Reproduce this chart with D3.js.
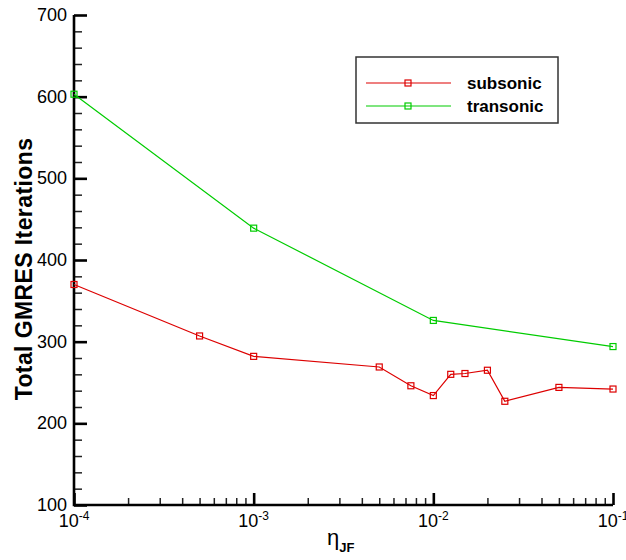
<!DOCTYPE html>
<html>
<head>
<meta charset="utf-8">
<script src="https://cdn.jsdelivr.net/npm/d3@7"></script>
<style>
  body { margin: 0; background: #fff; }
  svg text { font-family: "Liberation Sans", Arial, sans-serif; }
</style>
</head>
<body>
<svg id="chart" width="626" height="560"></svg>
<script>
// data
const subsonicEta = [1e-4, 5e-4, 1e-3, 5e-3, 7.5e-3, 1e-2, 1.25e-2, 1.5e-2, 2e-2, 2.5e-2, 5e-2, 1e-1];
const subsonicIter = [370, 307, 282, 269, 246, 234, 260, 261, 265, 227, 244, 242];
const transonicEta = [1e-4, 1e-3, 1e-2, 1e-1];
const transonicIter = [603, 439, 326, 294];
const seriesNames = ['subsonic', 'transonic'];
const seriesColors = ['#dd0000', '#00cc00'];
const yTicks = [100, 200, 300, 400, 500, 600, 700];
const xTickExps = [-4, -3, -2, -1];

const margin = { left: 74, right: 13, top: 15, bottom: 55 };
const width = 626, height = 560;

const svg = d3.select('#chart');
const x = d3.scaleLog().domain([1e-4, 1e-1]).range([margin.left, width - margin.right]);
const y = d3.scaleLinear().domain([100, 700]).range([height - margin.bottom, margin.top]);

const x0 = x.range()[0], yb = y.range()[0];

// minor ticks
const yMinor = d3.range(100, 701, 20).filter(v => v % 100 !== 0);
const xMinor = [];
xTickExps.slice(0, -1).forEach(e => {
  for (let k = 2; k <= 9; k++) xMinor.push(k * Math.pow(10, e));
});

// inward ticks via d3.axis (no labels)
const yMinAxis = svg.append('g').attr('transform', `translate(${x0},0)`)
  .call(d3.axisRight(y).tickValues(yMinor).tickSize(8).tickFormat(''));
const yMajAxis = svg.append('g').attr('transform', `translate(${x0},0)`)
  .call(d3.axisRight(y).tickValues(yTicks).tickSize(13).tickFormat(''));
const xMinAxis = svg.append('g').attr('transform', `translate(0,${yb})`)
  .call(d3.axisTop(x).tickValues(xMinor).tickSize(7).tickFormat(''));
const xMajAxis = svg.append('g').attr('transform', `translate(0,${yb})`)
  .call(d3.axisTop(x).tickValues(xTickExps.map(e => Math.pow(10, e))).tickSize(12).tickFormat(''));
[yMinAxis, yMajAxis, xMinAxis, xMajAxis].forEach(g => g.select('.domain').remove());
[yMinAxis, xMinAxis].forEach(g => g.selectAll('line').attr('stroke', '#222').attr('stroke-width', 1.5));
[yMajAxis, xMajAxis].forEach(g => g.selectAll('line').attr('stroke', '#000').attr('stroke-width', 2.6));

// axis lines
svg.append('path')
  .attr('d', `M${x0},${y.range()[1]}V${yb}H${x.range()[1]}`)
  .attr('fill', 'none').attr('stroke', '#000').attr('stroke-width', 2.6);

// y tick labels
svg.append('g').selectAll('text').data(yTicks).join('text')
  .attr('x', x0 - 7).attr('y', d => y(d) + 6)
  .attr('text-anchor', 'end').attr('font-size', 18).attr('fill', '#000')
  .text(d => d);

// x tick labels 10^n
const xl = svg.append('g').selectAll('text').data(xTickExps).join('text')
  .attr('x', d => x(Math.pow(10, d))).attr('y', yb + 22)
  .attr('text-anchor', 'middle').attr('font-size', 18).attr('fill', '#000');
xl.append('tspan').text('10');
xl.append('tspan').attr('font-size', 12).attr('dy', -7).text(d => '-' + Math.abs(d));

// axis titles
svg.append('text')
  .attr('transform', 'translate(32,269) rotate(-90)')
  .attr('text-anchor', 'middle').attr('font-size', 23).attr('font-weight', 'bold')
  .attr('letter-spacing', 0.4)
  .text('Total GMRES Iterations');
const xt = svg.append('text')
  .attr('x', 327).attr('y', 545).attr('font-size', 22);
xt.append('tspan').text('η');
xt.append('tspan').attr('font-size', 13).attr('font-weight', 'bold').attr('dy', 7).text('JF');

// series
const series = [
  { name: seriesNames[0], color: seriesColors[0], pts: subsonicEta.map((e, i) => [e, subsonicIter[i]]) },
  { name: seriesNames[1], color: seriesColors[1], pts: transonicEta.map((e, i) => [e, transonicIter[i]]) }
];
const line = d3.line().x(d => x(d[0])).y(d => y(d[1]));
const plot = svg.append('g');
series.forEach(s => {
  plot.append('path').attr('d', line(s.pts))
    .attr('fill', 'none').attr('stroke', s.color).attr('stroke-width', 1.2);
  plot.selectAll(null).data(s.pts).join('rect')
    .attr('x', d => x(d[0]) - 3).attr('y', d => y(d[1]) - 3)
    .attr('width', 6).attr('height', 6)
    .attr('fill', 'none').attr('stroke', s.color).attr('stroke-width', 1.2);
});

// legend
const lg = svg.append('g');
lg.append('rect').attr('x', 356).attr('y', 57).attr('width', 202).attr('height', 66)
  .attr('fill', '#fff').attr('stroke', '#333').attr('stroke-width', 1.5);
series.forEach((s, i) => {
  const ly = 83 + i * 23;
  lg.append('line').attr('x1', 366).attr('x2', 451).attr('y1', ly).attr('y2', ly)
    .attr('stroke', s.color).attr('stroke-width', 1.2);
  lg.append('rect').attr('x', 405).attr('y', ly - 3).attr('width', 6).attr('height', 6)
    .attr('fill', 'none').attr('stroke', s.color).attr('stroke-width', 1.2);
  lg.append('text').attr('x', 467).attr('y', ly + 6).attr('font-size', 17)
    .attr('font-weight', 'bold').text(s.name);
});
</script>
</body>
</html>
